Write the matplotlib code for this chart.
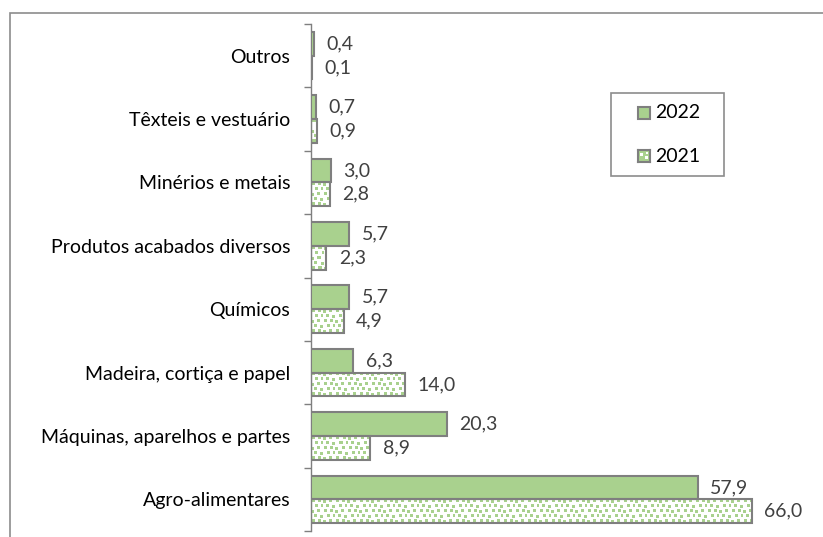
import numpy as np
import matplotlib
matplotlib.use('Agg')
import matplotlib.pyplot as plt
from matplotlib.patches import Rectangle

categories = ['Agro-alimentares', 'Máquinas, aparelhos e partes', 'Madeira, cortiça e papel',
              'Químicos', 'Produtos acabados diversos', 'Minérios e metais',
              'Têxteis e vestuário', 'Outros']
v2022 = [57.9, 20.3, 6.3, 5.7, 5.7, 3.0, 0.7, 0.4]
v2021 = [66.0, 8.9, 14.0, 4.9, 2.3, 2.8, 0.9, 0.1]
series = ['2022', '2021']

green = '#A9D18E'
edge = '#7F7F7F'
fs = 14

plt.rcParams['font.family'] = ['Lato', 'DejaVu Sans']

W, H = 823, 537
fig = plt.figure(figsize=(W / 100, H / 100), dpi=100)
ax = fig.add_axes([311 / W, 6 / H, 467.6 / W, 507 / H])

def fx(px):
    return px / W

def fy(px):
    return 1 - px / H

# outer chart border (cut off at right/bottom like the original)
fig.patches.append(Rectangle((fx(10), -0.1), 1.2, fy(13) + 0.1, transform=fig.transFigure,
                             fill=False, edgecolor='#8C8C8C', linewidth=1.2))

# confetti tile for the 2021 bars
tile = np.zeros((10, 12), dtype=bool)
for r, c in [(0, 1), (0, 7), (5, 4), (5, 10)]:
    tile[r:r + 3, c:c + 3] = True
tile2 = np.zeros((10, 12), dtype=bool)
for r, c in [(1, 0), (0, 6), (5, 3), (6, 9)]:
    tile2[r:r + 3, c:c + 3] = True
big = np.block([[tile, tile2], [tile2, tile]])

def pattern(h_px, w_px):
    reps = (h_px // big.shape[0] + 1, w_px // big.shape[1] + 1)
    m = np.tile(big, reps)[:h_px, :w_px]
    img = np.ones((h_px, w_px, 3))
    img[m] = matplotlib.colors.to_rgb(green)
    return img

y = np.arange(len(categories))
bh = 0.375
px_per_unit = 467.6 / 70

ax.barh(y + bh / 2, v2022, height=bh, color=green, edgecolor=edge, linewidth=1.5, zorder=3)
for yi, v in zip(y, v2021):
    y0 = yi - bh
    wpx = max(1, int(round(v * px_per_unit)))
    ax.imshow(pattern(24, wpx), extent=(0, v, y0, yi), aspect='auto',
              interpolation='nearest', zorder=2)
    ax.add_patch(Rectangle((0, y0), v, bh, fill=False, edgecolor=edge, linewidth=1.5, zorder=3))

for yi, a, b in zip(y, v2022, v2021):
    ax.annotate(f'{a:.1f}'.replace('.', ','), (a, yi + bh / 2), xytext=(9, 0),
                textcoords='offset points', va='center', ha='left', fontsize=fs, color='#404040')
    ax.annotate(f'{b:.1f}'.replace('.', ','), (b, yi - bh / 2), xytext=(9, 0),
                textcoords='offset points', va='center', ha='left', fontsize=fs, color='#404040')

ax.set_xlim(0, 70)
ax.set_ylim(-0.5, len(categories) - 0.5)
ax.set_yticks(y)
ax.set_yticklabels(categories, fontsize=fs)
ax.set_yticks(np.arange(-0.5, len(categories)), minor=True)
ax.tick_params(axis='y', which='major', length=0, pad=15)
ax.tick_params(axis='y', which='minor', length=5, color=edge, width=1)
ax.set_xticks([])
for s in ['top', 'right', 'bottom']:
    ax.spines[s].set_visible(False)
ax.spines['left'].set_color(edge)
ax.spines['left'].set_linewidth(1)

# legend drawn by hand to match the boxed Excel legend
fig.patches.append(Rectangle((fx(611), fy(176)), fx(724) - fx(611), fy(93) - fy(176),
                             transform=fig.transFigure, fill=True, facecolor='white',
                             edgecolor='#8C8C8C', linewidth=1.2, zorder=5))
for name, cy in zip(series, [113, 156]):
    fig.text(fx(655), fy(cy), name, fontsize=fs, va='center', ha='left', zorder=6)

fig.patches.append(Rectangle((fx(638), fy(119)), fx(12), 12 / H, transform=fig.transFigure,
                             facecolor=green, edgecolor=edge, linewidth=1.5, zorder=6))
# small 2021 swatch: green with white confetti, as in the reference
hax = fig.add_axes([fx(638), fy(162), fx(12), 12 / H], zorder=7)
sw = np.ones((12, 12, 3)) * np.array(matplotlib.colors.to_rgb(green))
sw[3:6, 2:5] = 1
sw[6:9, 7:10] = 1
sw[2:4, 8:10] = 1
hax.imshow(sw, interpolation='nearest', aspect='auto')
hax.set_xticks([])
hax.set_yticks([])
for s in hax.spines.values():
    s.set_color(edge)
    s.set_linewidth(1.5)

fig.savefig('out.png', dpi=100)
